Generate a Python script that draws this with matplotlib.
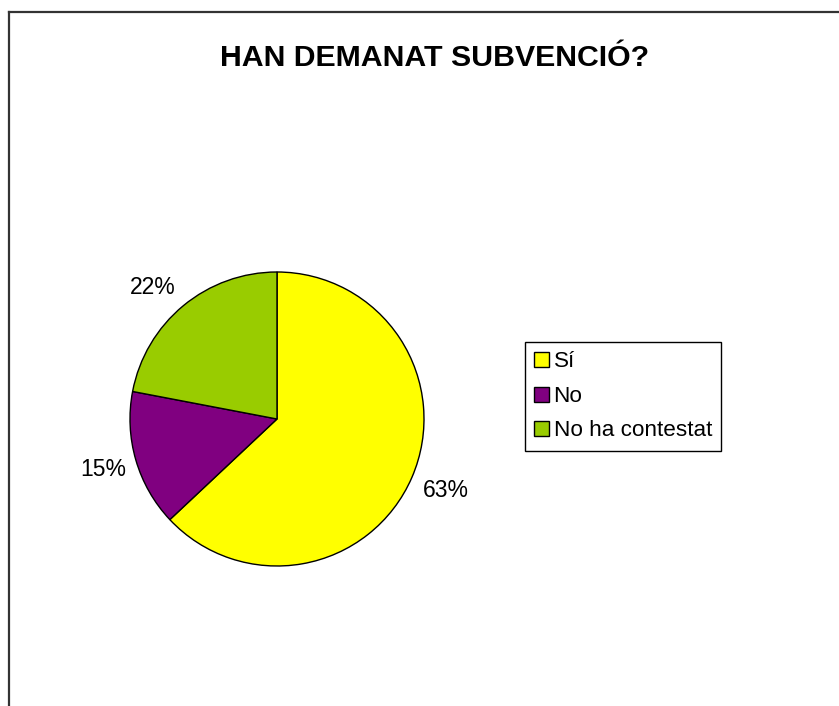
import matplotlib
matplotlib.use("Agg")
import matplotlib.pyplot as plt
from matplotlib.lines import Line2D
from matplotlib.patches import Patch

plt.rcParams["font.family"] = ["Liberation Sans", "DejaVu Sans"]

# dades
categories = ["Sí", "No", "No ha contestat"]
values = [63, 15, 22]
colors = ["#FFFF00", "#800080", "#99CC00"]

W, H = 839, 706
fig = plt.figure(figsize=(W / 100, H / 100), dpi=100)

# marc exterior (només esquerra i dalt visibles)
fig.add_artist(Line2D([8.5 / W, 8.5 / W], [0, 1 - 11.5 / H], color="#333", lw=1.6,
                      transform=fig.transFigure))
fig.add_artist(Line2D([8.5 / W, 1], [1 - 11.5 / H, 1 - 11.5 / H], color="#333", lw=1.6,
                      transform=fig.transFigure))

fig.text(435 / W, 1 - 58 / H, "HAN DEMANAT SUBVENCIÓ?", ha="center", va="center",
         fontsize=21.8, weight="bold")

# pastís: centre (277, 419), radi 147 px
cx, cy, r = 277, 419, 147
ax = fig.add_axes([(cx - r) / W, (H - cy - r) / H, 2 * r / W, 2 * r / H])
wedges, texts, autotexts = ax.pie(
    values, colors=colors, startangle=90, counterclock=False,
    autopct=lambda p: f"{p:.0f}%", pctdistance=1.23,
    wedgeprops=dict(edgecolor="black", linewidth=1.0),
    textprops=dict(fontsize=16.5, color="black"),
)
# petits ajustos de posició de les etiquetes
x, y = autotexts[2].get_position()
autotexts[2].set_position((x - 0.06, y - 0.05))
x, y = autotexts[0].get_position()
autotexts[0].set_position((x + 0.02, y))
ax.set_xlim(-1, 1); ax.set_ylim(-1, 1)
ax.set_aspect("equal")

handles = [Patch(facecolor=c, edgecolor="black", lw=1) for c in colors]
leg = fig.legend(handles, categories, loc="upper left",
                 bbox_to_anchor=(525 / W, 1 - 342 / H), fontsize=16.2,
                 handlelength=0.65, handleheight=0.65, handletextpad=0.2,
                 labelspacing=0.6, borderpad=0.42, borderaxespad=0,
                 fancybox=False, framealpha=1, edgecolor="black")
leg.get_frame().set_linewidth(1.0)

fig.savefig("out.png", dpi=100)
